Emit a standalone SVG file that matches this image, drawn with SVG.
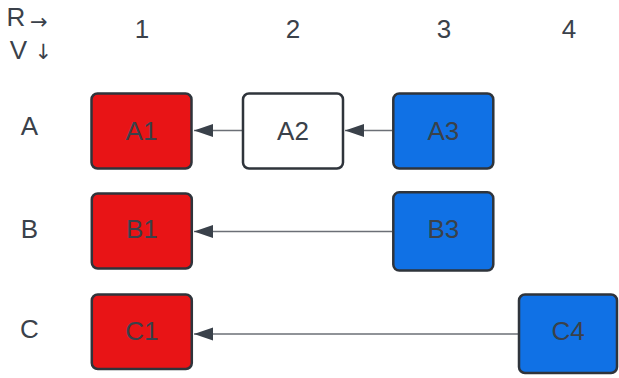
<svg xmlns="http://www.w3.org/2000/svg" width="619" height="378" viewBox="0 0 619 378">
  <defs>
    <style>
      .lbl { font-family: "Liberation Sans", Arial, sans-serif; font-size: 26px; fill: #3a414a; text-anchor: middle; }
      .arr { font-family: "DejaVu Sans", sans-serif; font-size: 21px; fill: #3a414a; }
      .node rect { stroke: #2f343b; stroke-width: 2.5; }
      .red { fill: #e81416; }
      .blue { fill: #1071e5; }
      .white { fill: #ffffff; }
      .edge { stroke: #6b6f76; stroke-width: 1.3; fill: none; marker-end: url(#ah); }
    </style>
    <marker id="ah" markerUnits="userSpaceOnUse" markerWidth="20" markerHeight="14" refX="19" refY="6.5" orient="auto">
      <path d="M0,0 L19,6.5 L0,13 z" fill="#3a414a"/>
    </marker>
  </defs>

  <rect width="619" height="378" fill="#ffffff"/>

  <!-- header labels -->
  <g id="headers">
    <text class="lbl" x="16" y="26">R</text>
    <text class="arr" x="30" y="29">→</text>
    <text class="lbl" x="18.5" y="59">V</text>
    <text class="arr" x="34.5" y="59">↓</text>
    <text class="lbl" x="142" y="38">1</text>
    <text class="lbl" x="293" y="38">2</text>
    <text class="lbl" x="444" y="38">3</text>
    <text class="lbl" x="569" y="38">4</text>
    <text class="lbl" x="29.5" y="135">A</text>
    <text class="lbl" x="29.5" y="238">B</text>
    <text class="lbl" x="29.5" y="338">C</text>
  </g>

  <!-- connectors -->
  <g id="connectors">
    <line class="edge" x1="242" y1="130.5" x2="194" y2="130.5"/>
    <line class="edge" x1="392" y1="130.5" x2="345" y2="130.5"/>
    <line class="edge" x1="392" y1="231.5" x2="194" y2="231.5"/>
    <line class="edge" x1="518" y1="334" x2="194" y2="334"/>
  </g>

  <!-- nodes -->
  <g id="A1" class="node">
    <rect class="red" x="91.5" y="93.5" width="100" height="75" rx="6"/>
    <text class="lbl" x="141.5" y="140">A1</text>
  </g>
  <g id="A2" class="node">
    <rect class="white" x="243" y="93.5" width="100" height="75" rx="6"/>
    <text class="lbl" x="293" y="140">A2</text>
  </g>
  <g id="A3" class="node">
    <rect class="blue" x="393.3" y="93.5" width="100" height="75" rx="6"/>
    <text class="lbl" x="443.3" y="140">A3</text>
  </g>
  <g id="B1" class="node">
    <rect class="red" x="91.8" y="193.5" width="100" height="75" rx="6"/>
    <text class="lbl" x="141.8" y="237.5">B1</text>
  </g>
  <g id="B3" class="node">
    <rect class="blue" x="393.3" y="192.3" width="100" height="78.3" rx="6"/>
    <text class="lbl" x="443.3" y="237.5">B3</text>
  </g>
  <g id="C1" class="node">
    <rect class="red" x="91.8" y="294.5" width="100" height="74.5" rx="6"/>
    <text class="lbl" x="141.8" y="339.5">C1</text>
  </g>
  <g id="C4" class="node">
    <rect class="blue" x="519" y="294.5" width="98" height="78.5" rx="6"/>
    <text class="lbl" x="568" y="340">C4</text>
  </g>
</svg>
